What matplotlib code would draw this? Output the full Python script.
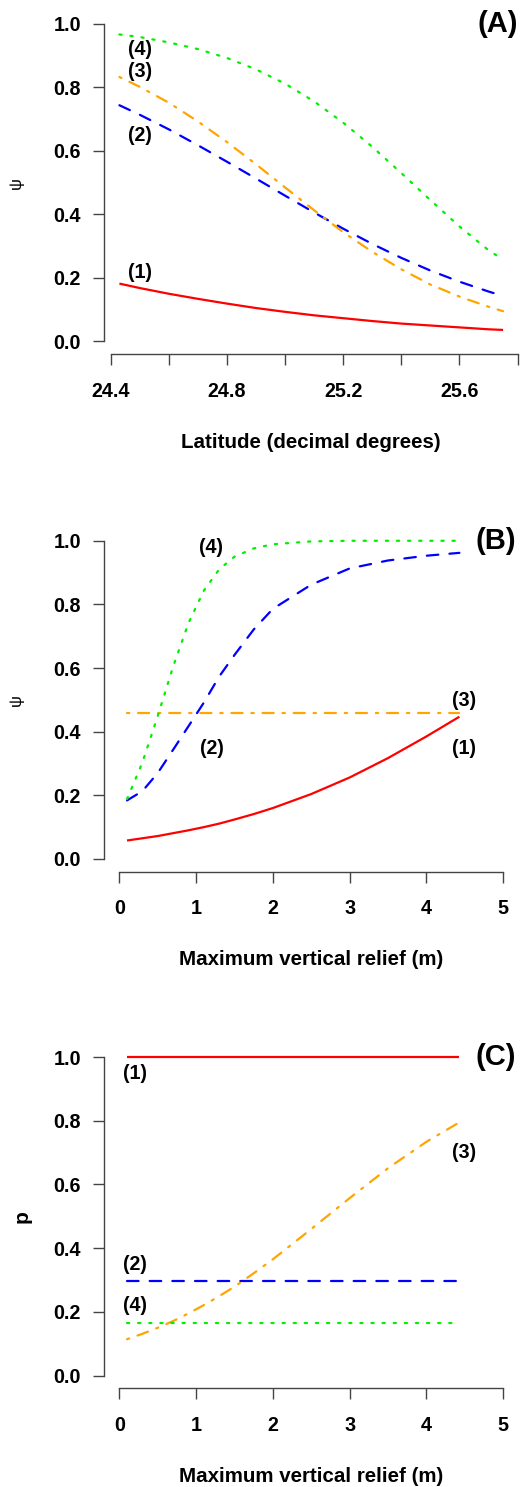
import numpy as np
import matplotlib
matplotlib.use("Agg")
import matplotlib.pyplot as plt

plt.rcParams['font.family'] = ['Liberation Sans', 'DejaVu Sans']

# panel A: occupancy vs latitude
lat = [24.43, 24.5, 24.6, 24.7, 24.8, 24.9, 25.0, 25.1, 25.2, 25.3, 25.4, 25.5, 25.6, 25.7, 25.75]
a_m1 = [0.182, 0.168, 0.150, 0.134, 0.119, 0.105, 0.093, 0.082, 0.073, 0.064, 0.056, 0.050, 0.044, 0.038, 0.036]
a_m2 = [0.744, 0.714, 0.668, 0.618, 0.566, 0.513, 0.459, 0.406, 0.355, 0.307, 0.263, 0.223, 0.188, 0.157, 0.143]
a_m3 = [0.833, 0.802, 0.752, 0.693, 0.628, 0.558, 0.485, 0.413, 0.344, 0.282, 0.227, 0.179, 0.141, 0.109, 0.095]
a_m4 = [0.967, 0.959, 0.942, 0.921, 0.893, 0.857, 0.812, 0.756, 0.689, 0.613, 0.530, 0.445, 0.362, 0.287, 0.258]

# panel B: occupancy vs relief
relief = [0.1, 0.3, 0.5, 0.7, 0.9, 1.1, 1.3, 1.5, 1.75, 2.0, 2.5, 3.0, 3.5, 4.0, 4.43]
b_m1 = [0.058, 0.065, 0.072, 0.081, 0.090, 0.100, 0.111, 0.124, 0.141, 0.160, 0.204, 0.256, 0.317, 0.385, 0.447]
b_m2 = [0.184, 0.213, 0.270, 0.343, 0.417, 0.491, 0.573, 0.641, 0.721, 0.786, 0.862, 0.913, 0.938, 0.953, 0.962]
b_m3 = [0.458] * len(relief)
b_m4 = [0.188, 0.303, 0.449, 0.604, 0.741, 0.843, 0.910, 0.950, 0.976, 0.989, 0.998, 1.0, 1.0, 1.0, 1.0]

# panel C: detection vs relief
c_m1 = [1.0] * len(relief)
c_m2 = [0.297] * len(relief)
c_m3 = [0.114, 0.131, 0.150, 0.171, 0.195, 0.221, 0.249, 0.279, 0.321, 0.365, 0.460, 0.557, 0.651, 0.734, 0.795]
c_m4 = [0.166] * len(relief)

cols = ['red', 'blue', 'orange', '#00f000']
lw = 1.6
styles = ['-', (0, (5.2, 5.0)), (0, (1.0, 4.0, 5.0, 4.0)), (0, (1.0, 4.0))]

fig = plt.figure(figsize=(5.21, 14.87), dpi=100)
axA = fig.add_axes([0.1996, 0.7619, 0.7956, 0.2305])
axB = fig.add_axes([0.1996, 0.4138, 0.7956, 0.2311])
axC = fig.add_axes([0.1996, 0.0664, 0.7956, 0.2313])

def draw(ax, x, ys):
    for y, c, ls in zip(ys, cols, styles):
        ax.plot(x, y, color=c, lw=lw, linestyle=ls, dash_capstyle='round', solid_capstyle='butt')

draw(axA, lat, [a_m1, a_m2, a_m3, a_m4])
draw(axB, relief, [b_m1, b_m2, b_m3, b_m4])
draw(axC, relief, [c_m1, c_m2, c_m3, c_m4])

tfs = 14.2
for ax in [axA, axB, axC]:
    ax.set_ylim(-0.04, 1.04)
    ax.spines['top'].set_visible(False)
    ax.spines['right'].set_visible(False)
    ax.spines['left'].set_bounds(0, 1)
    for s in ['left', 'bottom']:
        ax.spines[s].set_color('#444444')
        ax.spines[s].set_linewidth(1.0)
    ax.set_yticks([0, 0.2, 0.4, 0.6, 0.8, 1.0])
    ax.set_yticklabels(['0.0', '0.2', '0.4', '0.6', '0.8', '1.0'])
    ax.tick_params(axis='both', length=8, width=1.0, color='#444444', labelsize=tfs)
    ax.tick_params(axis='x', pad=12)
    ax.tick_params(axis='y', pad=8.5)
    for t in ax.get_xticklabels() + ax.get_yticklabels():
        t.set_fontweight('bold')

axA.set_xlim(24.377, 25.803)
axA.spines['bottom'].set_bounds(24.4, 25.8)
axA.set_xticks([24.4, 24.6, 24.8, 25.0, 25.2, 25.4, 25.6, 25.8])
axA.set_xticklabels(['24.4', '', '24.8', '', '25.2', '', '25.6', ''], fontweight='bold')

for ax in [axB, axC]:
    ax.set_xlim(-0.2, 5.2)
    ax.spines['bottom'].set_bounds(0, 5)
    ax.set_xticks([0, 1, 2, 3, 4, 5])
    ax.set_xticklabels(['0', '1', '2', '3', '4', '5'], fontweight='bold')

xfs = 14.8
axA.set_xlabel('Latitude (decimal degrees)', fontsize=xfs, fontweight='bold')
axB.set_xlabel('Maximum vertical relief (m)', fontsize=xfs, fontweight='bold')
axC.set_xlabel('Maximum vertical relief (m)', fontsize=xfs, fontweight='bold')
axA.set_ylabel('ψ', fontsize=12)
axB.set_ylabel('ψ', fontsize=12)
axC.set_ylabel('p', fontsize=15, fontweight='bold')
for ax in [axA, axB, axC]:
    ax.xaxis.set_label_coords(0.5, -0.257)
    ax.xaxis.label.set_va('center')
    ax.yaxis.label.set_va('center')
axA.yaxis.set_label_coords(-0.212, 0.5)
axB.yaxis.set_label_coords(-0.212, 0.5)
axC.yaxis.set_label_coords(-0.198, 0.5)

lfs = 14.2
def lab(ax, x, y, s):
    ax.text(x, y, s, ha='center', va='center', fontsize=lfs, fontweight='bold')

lab(axA, 24.50, 0.920, '(4)')
lab(axA, 24.50, 0.850, '(3)')
lab(axA, 24.50, 0.650, '(2)')
lab(axA, 24.50, 0.217, '(1)')
axA.text(25.73, 1.0, '(A)', ha='center', va='center', fontsize=21, fontweight='bold', clip_on=False)

lab(axB, 1.20, 0.979, '(4)')
lab(axB, 1.20, 0.346, '(2)')
lab(axB, 4.49, 0.498, '(3)')
lab(axB, 4.49, 0.346, '(1)')
axB.text(4.905, 1.0, '(B)', ha='center', va='center', fontsize=21, fontweight='bold', clip_on=False)

lab(axC, 0.204, 0.949, '(1)')
lab(axC, 0.204, 0.350, '(2)')
lab(axC, 0.204, 0.220, '(4)')
lab(axC, 4.49, 0.700, '(3)')
axC.text(4.905, 1.0, '(C)', ha='center', va='center', fontsize=21, fontweight='bold', clip_on=False)

fig.savefig('out.png', dpi=100)
